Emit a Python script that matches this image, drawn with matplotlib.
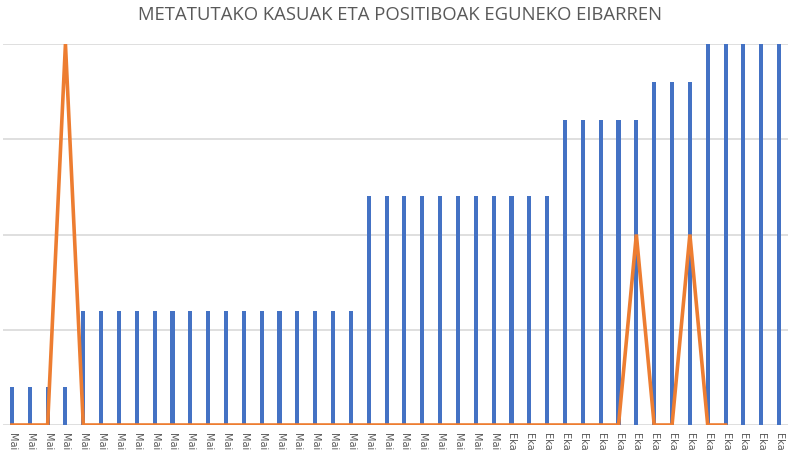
import numpy as np
import matplotlib
matplotlib.use("Agg")
import matplotlib.pyplot as plt

# Data
labels = ["Mai"] * 28 + ["Eka"] * 16
cumulative = [1, 1, 1, 1] + [3] * 16 + [6] * 11 + [8] * 5 + [9] * 3 + [10] * 5
daily = [0, 0, 0, 2] + [0] * 31 + [1, 0, 0, 1, 0, 0] + [np.nan] * 3

title = "METATUTAKO KASUAK ETA POSITIBOAK EGUNEKO EIBARREN"

BLUE = "#4472C4"
ORANGE = "#ED7D31"
GRID = "#D9D9D9"
TEXT = "#595959"

fig = plt.figure(figsize=(8, 4.5), dpi=100)
ax = fig.add_axes([3 / 800, 25 / 450, 785 / 800, 381 / 450])
x = np.arange(len(labels))

ax.bar(x, cumulative, width=0.23, color=BLUE, zorder=2)
ax.set_xlim(-0.5, len(labels) - 0.5)
ax.set_ylim(0, 10)
ax.set_yticks([0, 2.5, 5, 7.5, 10])
ax.yaxis.grid(True, color=GRID, linewidth=1.2, zorder=0)
ax.set_yticklabels([])
ax.tick_params(axis="y", length=0)
ax.set_xticks(x)
ax.set_xticklabels(labels, rotation=-90, fontsize=7, color=TEXT, va="top", ha="center")
ax.tick_params(axis="x", length=0, pad=6)
for s in ax.spines.values():
    s.set_visible(False)

ax2 = ax.twinx()
ax2.set_ylim(0, 2)
ax2.plot(x, daily, color=ORANGE, linewidth=2.6, zorder=3, solid_joinstyle="miter")
ax2.set_yticks([])
for s in ax2.spines.values():
    s.set_visible(False)

fig.text(0.5, 1 - 15 / 450, title, ha="center", va="center", fontsize=13.3,
         color=TEXT, family="Open Sans")

fig.savefig("out.png", dpi=100)
